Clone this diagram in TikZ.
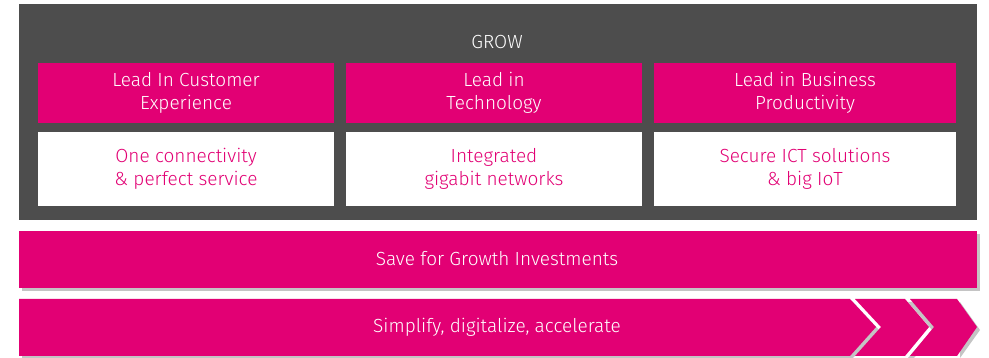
\documentclass[tikz,border=0pt]{standalone}
\usepackage{fontspec}
\setmainfont{Fira Sans}[UprightFont=* Light]
\usepackage{tikz}
\usetikzlibrary{calc}
\definecolor{tmagenta}{HTML}{E20074}
\definecolor{tgray}{HTML}{4D4D4D}
\definecolor{tshadow}{HTML}{C4C4C4}
\tikzset{
  lead/.style={fill=tmagenta, text=white, align=center, inner sep=0pt,
    minimum height=60pt, font=\fontsize{19}{23}\selectfont},
  goal/.style={fill=white, text=tmagenta, align=center, inner sep=0pt,
    minimum height=74pt, font=\fontsize{19}{23}\selectfont},
  bartext/.style={text=white, font=\fontsize{19}{23}\selectfont}
}

\begin{document}
\begin{tikzpicture}[x=1pt,y=-1pt]
	\useasboundingbox (0,0) rectangle (989,358);
	% grow block
	\fill[tgray] (19,4) rectangle (977,220);
	\node[text=white, font=\fontsize{19}{23}\selectfont] (grow) at (497,42) {GROW};
	\node[lead, minimum width=296pt] (lead1) at (186,93) {Lead In Customer\\Experience};
	\node[lead, minimum width=296pt] (lead2) at (494,93) {Lead in\\Technology};
	\node[lead, minimum width=302pt] (lead3) at (805,93) {Lead in Business\\Productivity};
	\node[goal, minimum width=296pt] (goal1) at (186,169) {One connectivity\\\& perfect service};
	\node[goal, minimum width=296pt] (goal2) at (494,169) {Integrated\\gigabit networks};
	\node[goal, minimum width=302pt] (goal3) at (805,169) {Secure ICT solutions\\\& big IoT};
	% save bar
	\fill[tshadow] (22,234) rectangle (980,291);
	\fill[tmagenta] (19,231) rectangle (977,288);
	\node[bartext] (save) at (497,259) {Save for Growth Investments};
	% simplify arrow
	\fill[tshadow] (22,302) -- (853,302) -- (879,330) -- (853,358) -- (22,358) -- cycle;
	\fill[tshadow] (908,302) -- (932,330) -- (908,358) -- (914,358) -- (938,330) -- (914,302) -- cycle;
	\fill[tshadow] (960,302) -- (980,330) -- (960,358) -- cycle;
	\fill[tmagenta] (19,299) -- (850,299) -- (876,327) -- (850,356) -- (19,356) -- cycle;
	\fill[tmagenta] (855,299) -- (905,299) -- (929,327) -- (905,356) -- (855,356) -- (881,327) -- cycle;
	\fill[tmagenta] (910,299) -- (957,299) -- (977,327) -- (957,356) -- (910,356) -- (934,327) -- cycle;
	\node[bartext] (simplify) at (497,327) {Simplify, digitalize, accelerate};
\end{tikzpicture}
\end{document}
